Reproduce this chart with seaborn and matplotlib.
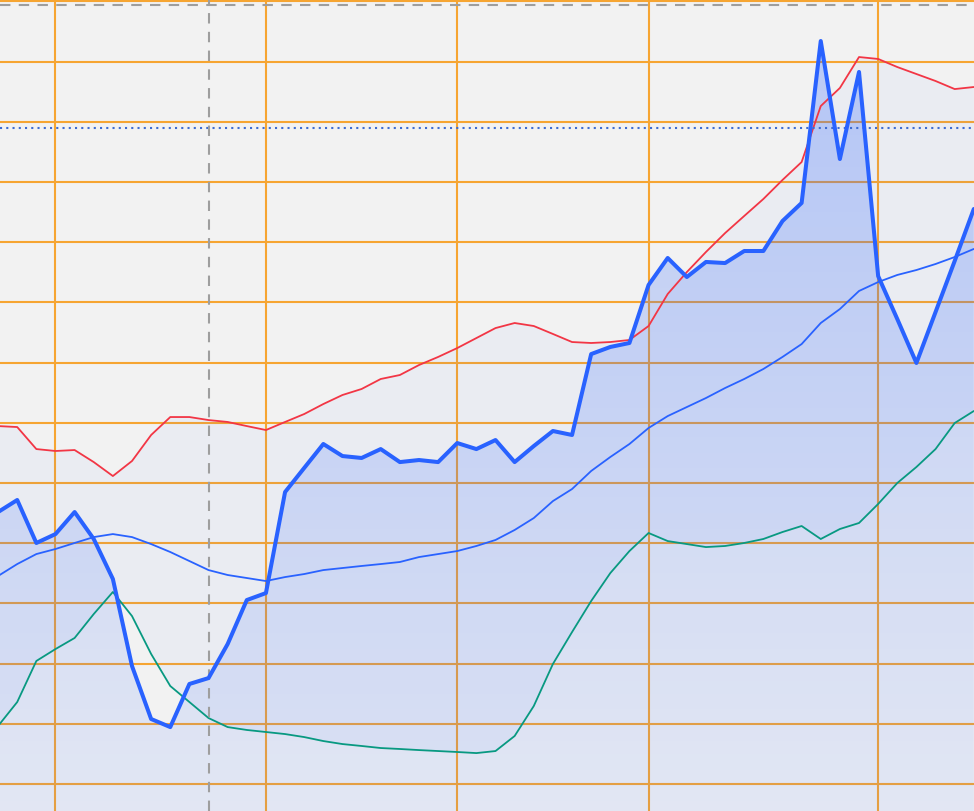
import numpy as np
import pandas as pd
import seaborn as sns
import matplotlib
matplotlib.use("Agg")
import matplotlib.pyplot as plt

# price and bollinger bands, one value per bar
price = [122.59, 123.59, 120.02, 120.76, 122.59, 120.35, 117.03, 109.80, 105.40, 104.73,
         108.31, 108.80, 111.63, 115.28, 115.86, 124.25, 126.25, 128.24, 127.24, 127.08,
         127.82, 126.74, 126.91, 126.74, 128.32, 127.82, 128.57, 126.74, 128.07, 129.32,
         128.99, 135.71, 136.30, 136.63, 141.45, 143.69, 142.11, 143.36, 143.27, 144.27,
         144.27, 146.76, 148.26, 161.71, 151.91, 159.14, 142.19, 138.62, 134.97, 139.20,
         143.44, 147.76]
upper = [129.73, 129.65, 127.82, 127.66, 127.74, 126.74, 125.58, 126.83, 128.99, 130.48,
         130.48, 130.23, 130.07, 129.73, 129.40, 130.07, 130.73, 131.56, 132.31, 132.81,
         133.64, 133.97, 134.80, 135.47, 136.21, 137.04, 137.87, 138.29, 138.04, 137.38,
         136.71, 136.63, 136.71, 136.88, 138.04, 140.70, 142.52, 144.19, 145.76, 147.18,
         148.59, 150.17, 151.66, 156.31, 157.81, 160.38, 160.22, 159.55, 158.97, 158.39,
         157.72, 157.89]
middle = [117.28, 118.27, 119.10, 119.52, 120.02, 120.51, 120.76, 120.51, 119.93, 119.27,
          118.52, 117.77, 117.36, 117.11, 116.86, 117.19, 117.44, 117.77, 117.94, 118.11,
          118.27, 118.44, 118.85, 119.10, 119.35, 119.77, 120.27, 121.10, 122.09, 123.50,
          124.50, 126.00, 127.16, 128.24, 129.57, 130.56, 131.31, 132.06, 132.89, 133.64,
          134.47, 135.47, 136.54, 138.29, 139.45, 140.95, 141.69, 142.28, 142.69, 143.19,
          143.77, 144.44]
lower = [104.82, 106.81, 110.22, 111.21, 112.13, 114.12, 115.95, 113.95, 110.80, 108.14,
         106.81, 105.48, 104.73, 104.49, 104.32, 104.15, 103.90, 103.57, 103.32, 103.16,
         102.99, 102.91, 102.82, 102.74, 102.66, 102.57, 102.74, 103.99, 106.48, 109.97,
         112.62, 115.20, 117.52, 119.35, 120.85, 120.18, 119.93, 119.68, 119.77, 120.02,
         120.35, 120.93, 121.43, 120.35, 121.18, 121.68, 123.26, 125.00, 126.33, 127.82,
         129.98, 130.98]

date_ticks = [3, 14, 24, 34, 46]
price_ticks = list(range(100, 170, 5))
top_level = 164.7
alert_level = 154.49
cursor_bar = 11

df = pd.DataFrame({"bar": np.arange(len(price)), "price": price,
                   "upper": upper, "middle": middle, "lower": lower})

sns.set_theme(style="whitegrid", rc={
    "axes.facecolor": "#f2f2f2",
    "figure.facecolor": "#f2f2f2",
    "grid.color": "#f6a532",
    "grid.linewidth": 1.5,
})

fig = plt.figure(figsize=(9.74, 8.12), dpi=100)
ax = fig.add_axes([0, 0, 1, 1])

xlo, xhi = 0.1, 51.01
ylo, yhi = 97.76, 165.20

blue = "#2962ff"

# band fill
ax.fill_between(df["bar"], df["lower"], df["upper"], color=blue, alpha=0.04, lw=0, zorder=1)

# gradient fill below price
poly = ax.fill_between(df["bar"], df["price"], ylo - 5, facecolor="none", edgecolor="none")
grad = np.zeros((256, 1, 4))
grad[..., :3] = matplotlib.colors.to_rgb(blue)
grad[:, 0, 3] = np.linspace(0.29, 0.08, 256)
im = ax.imshow(grad, extent=[xlo, xhi, ylo, yhi], origin="upper", aspect="auto", zorder=1.5)
im.set_clip_path(poly.get_paths()[0], transform=ax.transData)

sns.lineplot(data=df, x="bar", y="upper", color="#f23645", lw=1.3, ax=ax, zorder=3)
sns.lineplot(data=df, x="bar", y="lower", color="#089981", lw=1.3, ax=ax, zorder=3)
sns.lineplot(data=df, x="bar", y="middle", color=blue, lw=1.3, ax=ax, zorder=3)
sns.lineplot(data=df, x="bar", y="price", color=blue, lw=2.9, ax=ax, zorder=4)

ax.axhline(top_level, color="#9e9e9e", lw=1.5, dashes=(5, 4), zorder=3)
ax.axhline(alert_level, color="#3d6bd1", lw=1.5, ls=(0, (1, 2)), zorder=3)
ax.axvline(cursor_bar, color="#9e9e9e", lw=1.5, dashes=(5, 4), zorder=3)

ax.set_xticks(date_ticks)
ax.set_yticks(price_ticks)
ax.set_xlim(xlo, xhi)
ax.set_ylim(ylo, yhi)
ax.set_axisbelow(True)
ax.tick_params(length=0, labelleft=False, labelbottom=False)
ax.set_xlabel("")
ax.set_ylabel("")
for s in ax.spines.values():
    s.set_visible(False)

fig.savefig("out.png", dpi=100)
